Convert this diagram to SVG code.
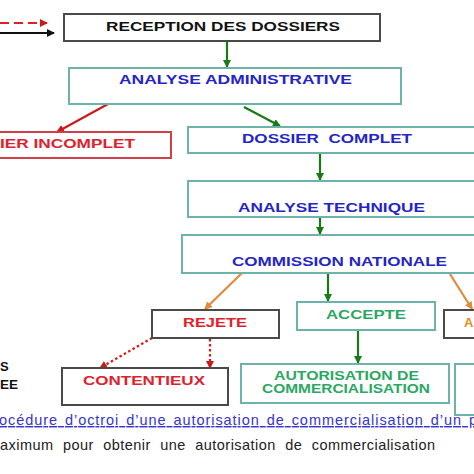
<svg xmlns="http://www.w3.org/2000/svg" width="474" height="474" viewBox="0 0 474 474">
<style>
.bx{fill:#fff;stroke-width:2}
.teal{stroke:#6db3ac}
.dark{stroke:#4a4a4a}
.redb{stroke:#d0404a}
.t{font-family:"Liberation Sans",Arial,sans-serif;font-weight:bold;font-size:13px}
.blue{fill:#2424c8}
.red{fill:#e0202c}
.grn{fill:#2aa862}
.org{fill:#e58a1e}
.blk{fill:#111}
.cap{font-family:"Liberation Sans",Arial,sans-serif;font-size:14.5px}
.ln{fill:none;stroke-width:2.2}
</style>
<defs>
<marker id="ag" markerWidth="8" markerHeight="8" refX="7" refY="4" orient="auto" markerUnits="userSpaceOnUse"><path d="M0,0 L8,4 L0,8 z" fill="#1a7a1a"/></marker>
<marker id="ar" markerWidth="8" markerHeight="8" refX="7" refY="4" orient="auto" markerUnits="userSpaceOnUse"><path d="M0,0 L8,4 L0,8 z" fill="#cc1a1a"/></marker>
<marker id="ao" markerWidth="8" markerHeight="8" refX="7" refY="4" orient="auto" markerUnits="userSpaceOnUse"><path d="M0,0 L8,4 L0,8 z" fill="#e08a3a"/></marker>
<marker id="ab" markerWidth="8" markerHeight="8" refX="7" refY="4" orient="auto" markerUnits="userSpaceOnUse"><path d="M0,0 L8,4 L0,8 z" fill="#111"/></marker>
</defs>
<rect width="474" height="474" fill="#fff"/>

<g id="connectors">
<line class="ln" x1="0" y1="23" x2="47" y2="23" stroke="#e02020" stroke-dasharray="9 5" marker-end="url(#ar)"/>
<line class="ln" x1="0" y1="33" x2="54" y2="33" stroke="#111" marker-end="url(#ab)"/>
<line class="ln" x1="227" y1="41" x2="227" y2="67" stroke="#1a7a1a" marker-end="url(#ag)"/>
<line class="ln" x1="108" y1="104" x2="57" y2="132" stroke="#cc1a1a" stroke-width="2.6" marker-end="url(#ar)"/>
<line class="ln" x1="244" y1="107" x2="280" y2="126" stroke="#1a7a1a" stroke-width="2.6" marker-end="url(#ag)"/>
<line class="ln" x1="320" y1="153" x2="320" y2="180" stroke="#1a7a1a" marker-end="url(#ag)"/>
<line class="ln" x1="320" y1="217" x2="320" y2="234" stroke="#1a7a1a" marker-end="url(#ag)"/>
<line class="ln" x1="242" y1="273" x2="205" y2="309" stroke="#e08a3a" marker-end="url(#ao)"/>
<line class="ln" x1="450" y1="274" x2="472" y2="309" stroke="#e08a3a" marker-end="url(#ao)"/>
<line class="ln" x1="328" y1="273" x2="328" y2="301" stroke="#1a7a1a" marker-end="url(#ag)"/>
<line class="ln" x1="152" y1="338" x2="100" y2="368" stroke="#dd1a1a" stroke-width="3" stroke-dasharray="2.5 2.5" marker-end="url(#ar)"/>
<line class="ln" x1="210" y1="339" x2="210" y2="368" stroke="#dd1a1a" stroke-width="3" stroke-dasharray="2.5 2.5" marker-end="url(#ar)"/>
<line class="ln" x1="358" y1="330" x2="358" y2="363" stroke="#1a7a1a" marker-end="url(#ag)"/>
</g>

<g id="reception">
<rect class="bx dark" x="64" y="14" width="316" height="27"/>
<text class="t blk" x="106" y="31" textLength="234" lengthAdjust="spacingAndGlyphs">RECEPTION DES DOSSIERS</text>
</g>
<g id="analyse-admin">
<rect class="bx teal" x="69" y="68" width="332" height="36"/>
<text class="t blue" x="119" y="84" font-size="14" textLength="233" lengthAdjust="spacingAndGlyphs">ANALYSE ADMINISTRATIVE</text>
</g>
<g id="dossier-incomplet">
<rect class="bx redb" x="-10" y="132" width="181" height="26"/>
<text class="t red" x="0" y="148" font-size="13.5" textLength="135" lengthAdjust="spacingAndGlyphs">IER INCOMPLET</text>
</g>
<g id="dossier-complet">
<rect class="bx teal" x="188" y="127" width="300" height="26"/>
<text class="t blue" x="242" y="143" font-size="13.5" textLength="170" lengthAdjust="spacingAndGlyphs" xml:space="preserve">DOSSIER  COMPLET</text>
</g>
<g id="analyse-technique">
<rect class="bx teal" x="188" y="181" width="300" height="36"/>
<text class="t blue" x="238" y="212" font-size="13.5" textLength="187" lengthAdjust="spacingAndGlyphs">ANALYSE TECHNIQUE</text>
</g>
<g id="commission">
<rect class="bx teal" x="182" y="235" width="306" height="38"/>
<text class="t blue" x="232" y="266" font-size="14" textLength="215" lengthAdjust="spacingAndGlyphs">COMMISSION NATIONALE</text>
</g>
<g id="rejete">
<rect class="bx dark" x="152" y="310" width="127" height="28"/>
<text class="t red" x="183" y="327" font-size="13.5" textLength="64" lengthAdjust="spacingAndGlyphs">REJETE</text>
</g>
<g id="accepte">
<rect class="bx teal" x="297" y="302" width="138" height="28"/>
<text class="t grn" x="326" y="319" font-size="13.5" textLength="80" lengthAdjust="spacingAndGlyphs">ACCEPTE</text>
</g>
<g id="a-box">
<rect class="bx dark" x="444" y="310" width="50" height="28"/>
<text class="t org" x="464" y="327" font-size="13.5">A</text>
</g>
<g id="contentieux">
<rect class="bx dark" x="62" y="368" width="166" height="37"/>
<text class="t red" x="83" y="385" font-size="13.5" textLength="122" lengthAdjust="spacingAndGlyphs">CONTENTIEUX</text>
</g>
<g id="autorisation">
<rect class="bx teal" x="241" y="364" width="208" height="39"/>
<text class="t grn" x="274" y="379.5" font-size="10.5" textLength="145" lengthAdjust="spacingAndGlyphs">AUTORISATION DE</text>
<text class="t grn" x="262" y="393" font-size="10.5" textLength="168" lengthAdjust="spacingAndGlyphs">COMMERCIALISATION</text>
</g>
<g id="right-box">
<rect class="bx teal" x="455" y="364" width="40" height="51"/>
</g>
<g id="left-legend">
<text class="t blk" x="0" y="371" font-size="12">S</text>
<text class="t blk" x="0" y="389" font-size="12" textLength="18" lengthAdjust="spacingAndGlyphs">EE</text>
</g>

<text class="cap" x="-1" y="425" fill="#3535d0" text-decoration="underline" word-spacing="2" textLength="478" lengthAdjust="spacing">océdure d’octroi d’une autorisation de commercialisation d’un p</text>
<text class="cap" x="0" y="450" font-size="15" fill="#222" word-spacing="5" textLength="435" lengthAdjust="spacing">aximum pour obtenir une autorisation de commercialisation</text>
</svg>
